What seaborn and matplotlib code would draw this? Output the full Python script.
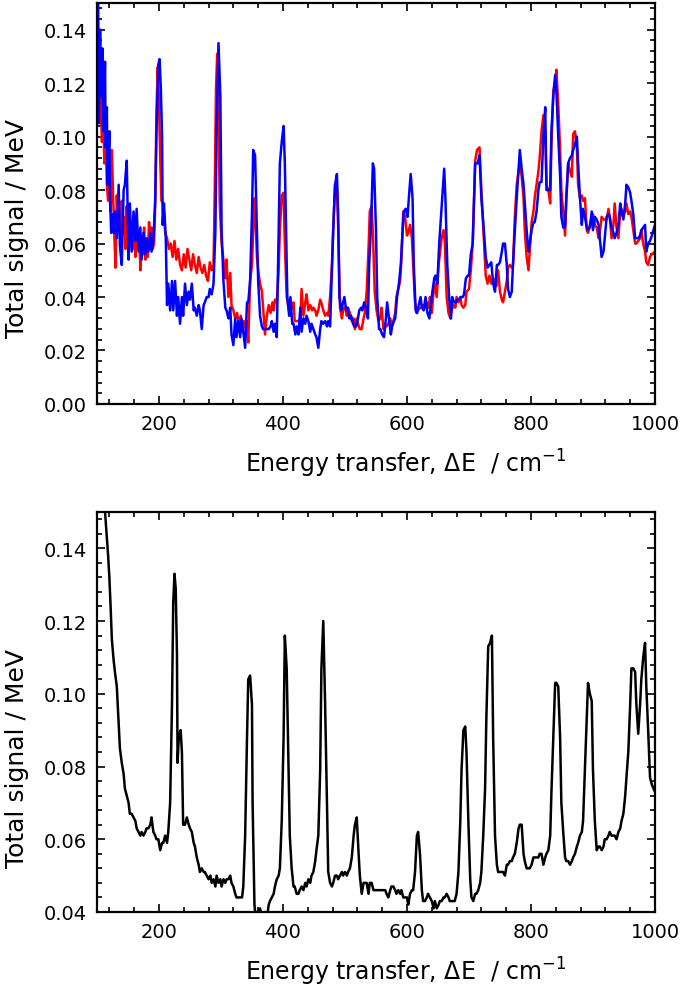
import numpy as np
import pandas as pd
import seaborn as sns
import matplotlib.pyplot as plt
from matplotlib.ticker import MultipleLocator, FormatStrFormatter

# top panel, red trace (energy transfer / cm-1, signal)
red_x = [100, 102, 104, 106, 108, 110, 112, 114, 116, 118, 120, 122, 124, 126, 128, 130, 132, 134, 136, 138,
         140, 142, 144, 146, 148, 150, 152, 154, 156, 158, 160, 162, 164, 166, 168, 170, 172, 174, 176, 178,
         180, 182, 184, 186, 188, 190, 192, 194, 196, 198, 200, 202, 204, 207, 210, 213, 216, 219, 222, 225,
         228, 231, 234, 237, 240, 243, 246, 249, 252, 255, 258, 261, 264, 267, 270, 273, 276, 279, 282, 285,
         288, 290, 292, 294, 296, 298, 301, 304, 307, 309, 312, 315, 317, 320, 323, 326, 329, 332, 334, 337,
         340, 342, 344, 347, 350, 352, 354, 356, 358, 360, 363, 366, 368, 371, 374, 377, 380, 383, 385, 387,
         390, 393, 395, 398, 401, 403, 406, 409, 411, 414, 417, 419, 422, 425, 428, 430, 433, 436, 438, 441,
         444, 447, 449, 452, 454, 457, 460, 463, 465, 468, 471, 473, 476, 479, 481, 484, 487, 489, 492, 495,
         498, 501, 503, 505, 508, 511, 514, 516, 519, 521, 524, 527, 530, 532, 535, 538, 540, 543, 545, 548,
         551, 554, 557, 559, 562, 565, 567, 570, 573, 575, 578, 581, 583, 586, 589, 591, 594, 597, 600, 602,
         605, 608, 610, 613, 616, 618, 621, 624, 626, 629, 632, 635, 637, 640, 643, 645, 648, 651, 654, 656,
         659, 661, 664, 667, 670, 672, 675, 678, 680, 683, 686, 688, 691, 694, 696, 700, 703, 706, 710, 713,
         717, 720, 724, 727, 730, 733, 736, 739, 742, 744, 747, 750, 753, 755, 758, 761, 763, 766, 769, 771,
         774, 777, 780, 782, 785, 788, 790, 793, 796, 798, 801, 804, 806, 809, 812, 814, 817, 820, 823, 825,
         828, 831, 833, 836, 839, 841, 844, 847, 849, 852, 855, 857, 860, 863, 866, 868, 871, 874, 876, 879,
         882, 884, 887, 890, 892, 895, 898, 900, 903, 906, 909, 911, 914, 917, 919, 922, 925, 927, 930, 933,
         935, 938, 941, 944, 946, 949, 952, 954, 957, 960, 962, 965, 968, 970, 973, 976, 978, 981, 984, 986,
         989, 992, 995, 1000]
red_y = [0.120, 0.136, 0.105, 0.115, 0.098, 0.108, 0.090, 0.100, 0.082, 0.076, 0.088, 0.072, 0.095, 0.078, 0.063, 0.051, 0.078, 0.066, 0.072, 0.060,
         0.076, 0.064, 0.070, 0.058, 0.074, 0.062, 0.072, 0.060, 0.068, 0.058, 0.070, 0.055, 0.066, 0.058, 0.064, 0.050, 0.061, 0.056, 0.066, 0.054,
         0.060, 0.055, 0.068, 0.058, 0.066, 0.058, 0.060, 0.075, 0.110, 0.126, 0.112, 0.092, 0.076, 0.075, 0.064, 0.062, 0.058, 0.060, 0.055, 0.061,
         0.054, 0.058, 0.052, 0.050, 0.056, 0.051, 0.058, 0.054, 0.050, 0.056, 0.052, 0.049, 0.055, 0.051, 0.049, 0.052, 0.048, 0.046, 0.053, 0.050,
         0.052, 0.080, 0.118, 0.131, 0.110, 0.075, 0.060, 0.054, 0.047, 0.054, 0.040, 0.049, 0.037, 0.035, 0.032, 0.034, 0.030, 0.033, 0.027, 0.031,
         0.028, 0.031, 0.023, 0.046, 0.052, 0.065, 0.077, 0.068, 0.055, 0.050, 0.045, 0.042, 0.036, 0.026, 0.033, 0.037, 0.034, 0.038, 0.035, 0.039,
         0.038, 0.050, 0.065, 0.078, 0.079, 0.060, 0.040, 0.036, 0.033, 0.036, 0.038, 0.031, 0.031, 0.031, 0.032, 0.043, 0.033, 0.038, 0.041, 0.035,
         0.037, 0.035, 0.036, 0.035, 0.033, 0.035, 0.039, 0.037, 0.035, 0.033, 0.034, 0.033, 0.040, 0.052, 0.065, 0.082, 0.081, 0.066, 0.036, 0.032,
         0.036, 0.036, 0.033, 0.036, 0.034, 0.031, 0.032, 0.028, 0.032, 0.030, 0.028, 0.028, 0.032, 0.034, 0.042, 0.058, 0.072, 0.074, 0.064, 0.042,
         0.035, 0.031, 0.032, 0.036, 0.028, 0.030, 0.029, 0.030, 0.032, 0.030, 0.031, 0.034, 0.040, 0.043, 0.046, 0.054, 0.072, 0.070, 0.063, 0.064,
         0.067, 0.062, 0.052, 0.038, 0.034, 0.035, 0.036, 0.036, 0.037, 0.036, 0.038, 0.036, 0.040, 0.034, 0.042, 0.045, 0.040, 0.052, 0.058, 0.062,
         0.065, 0.061, 0.040, 0.034, 0.032, 0.035, 0.037, 0.036, 0.040, 0.038, 0.040, 0.037, 0.036, 0.037, 0.042, 0.043, 0.050, 0.060, 0.091, 0.095,
         0.096, 0.080, 0.062, 0.048, 0.045, 0.048, 0.045, 0.047, 0.046, 0.044, 0.050, 0.042, 0.039, 0.038, 0.042, 0.046, 0.051, 0.052, 0.051, 0.052,
         0.070, 0.082, 0.087, 0.090, 0.085, 0.077, 0.065, 0.055, 0.050, 0.057, 0.068, 0.072, 0.077, 0.082, 0.087, 0.092, 0.102, 0.108, 0.102, 0.082,
         0.080, 0.075, 0.097, 0.117, 0.121, 0.125, 0.112, 0.095, 0.080, 0.072, 0.063, 0.077, 0.090, 0.087, 0.085, 0.101, 0.102, 0.096, 0.082, 0.077,
         0.078, 0.076, 0.077, 0.065, 0.064, 0.067, 0.070, 0.071, 0.067, 0.066, 0.062, 0.064, 0.070, 0.069, 0.069, 0.069, 0.073, 0.070, 0.062, 0.067,
         0.075, 0.066, 0.062, 0.072, 0.073, 0.071, 0.072, 0.075, 0.071, 0.072, 0.070, 0.065, 0.060, 0.060, 0.061, 0.062, 0.065, 0.060, 0.057, 0.053,
         0.052, 0.055, 0.056, 0.057]

# top panel, blue trace
blue_x = [100, 102, 103, 105, 107, 109, 110, 112, 113, 114, 116, 117, 120, 121, 123, 125, 127, 129, 132, 135,
          137, 140, 143, 145, 148, 151, 153, 156, 159, 162, 164, 167, 170, 172, 175, 178, 180, 183, 186, 188,
          191, 194, 196, 199, 201, 203, 205, 206, 208, 211, 213, 215, 218, 221, 223, 226, 229, 231, 234, 237,
          239, 242, 245, 248, 250, 253, 256, 258, 261, 264, 266, 269, 272, 274, 277, 280, 282, 285, 288, 291,
          293, 296, 299, 301, 304, 307, 309, 312, 315, 317, 320, 323, 325, 328, 331, 333, 336, 339, 342, 344,
          347, 350, 352, 355, 358, 360, 363, 366, 368, 371, 374, 377, 380, 382, 385, 387, 390, 393, 395, 398,
          401, 403, 405, 407, 410, 412, 415, 417, 420, 422, 425, 428, 430, 433, 436, 438, 441, 444, 446, 449,
          452, 454, 457, 460, 462, 465, 468, 471, 473, 476, 479, 481, 484, 487, 489, 491, 494, 496, 499, 502,
          504, 507, 510, 513, 515, 518, 521, 523, 526, 528, 531, 534, 537, 539, 542, 545, 547, 550, 552, 555,
          557, 560, 563, 566, 568, 571, 574, 576, 579, 581, 584, 587, 590, 593, 595, 598, 601, 603, 606, 609,
          611, 614, 616, 619, 622, 624, 627, 630, 633, 636, 638, 641, 644, 646, 649, 652, 654, 657, 660, 662,
          665, 668, 671, 673, 676, 679, 681, 684, 687, 690, 692, 695, 698, 700, 703, 706, 710, 714, 717, 720,
          724, 727, 730, 733, 736, 739, 742, 745, 747, 750, 753, 755, 758, 761, 763, 766, 769, 771, 774, 777,
          780, 782, 785, 788, 790, 793, 796, 798, 801, 804, 806, 809, 812, 814, 817, 820, 823, 825, 828, 831,
          833, 836, 839, 841, 844, 847, 849, 852, 855, 857, 860, 863, 866, 868, 871, 874, 876, 879, 882, 884,
          887, 890, 892, 895, 898, 900, 903, 906, 909, 911, 914, 917, 919, 922, 925, 927, 930, 933, 935, 938,
          941, 944, 946, 949, 952, 954, 957, 960, 962, 965, 968, 970, 973, 976, 978, 981, 984, 986, 989, 992,
          995, 1000]
blue_y = [0.160, 0.150, 0.105, 0.140, 0.115, 0.133, 0.102, 0.118, 0.128, 0.096, 0.111, 0.082, 0.102, 0.077, 0.064, 0.071, 0.064, 0.072, 0.062, 0.082,
          0.059, 0.052, 0.080, 0.082, 0.091, 0.054, 0.075, 0.057, 0.072, 0.061, 0.073, 0.057, 0.066, 0.054, 0.064, 0.056, 0.062, 0.057, 0.064, 0.057,
          0.061, 0.077, 0.102, 0.127, 0.129, 0.118, 0.100, 0.067, 0.075, 0.062, 0.037, 0.045, 0.035, 0.046, 0.035, 0.046, 0.033, 0.040, 0.030, 0.040,
          0.033, 0.045, 0.037, 0.042, 0.039, 0.045, 0.035, 0.036, 0.033, 0.037, 0.035, 0.028, 0.037, 0.038, 0.040, 0.040, 0.043, 0.041, 0.045, 0.065,
          0.102, 0.135, 0.115, 0.065, 0.046, 0.036, 0.035, 0.032, 0.036, 0.026, 0.022, 0.032, 0.025, 0.031, 0.025, 0.032, 0.027, 0.021, 0.038, 0.038,
          0.046, 0.071, 0.095, 0.093, 0.065, 0.046, 0.033, 0.029, 0.028, 0.028, 0.028, 0.028, 0.029, 0.031, 0.027, 0.030, 0.025, 0.065, 0.090, 0.098,
          0.104, 0.090, 0.065, 0.040, 0.033, 0.040, 0.030, 0.030, 0.026, 0.029, 0.026, 0.036, 0.027, 0.032, 0.030, 0.033, 0.031, 0.027, 0.030, 0.028,
          0.026, 0.025, 0.021, 0.028, 0.031, 0.030, 0.031, 0.029, 0.031, 0.029, 0.050, 0.065, 0.082, 0.086, 0.071, 0.040, 0.035, 0.037, 0.040, 0.035,
          0.036, 0.032, 0.033, 0.030, 0.029, 0.029, 0.032, 0.035, 0.036, 0.035, 0.038, 0.036, 0.032, 0.052, 0.067, 0.090, 0.088, 0.065, 0.040, 0.028,
          0.028, 0.026, 0.025, 0.032, 0.038, 0.032, 0.026, 0.029, 0.031, 0.032, 0.040, 0.045, 0.052, 0.065, 0.072, 0.073, 0.070, 0.077, 0.086, 0.077,
          0.052, 0.035, 0.034, 0.037, 0.040, 0.036, 0.035, 0.040, 0.034, 0.032, 0.036, 0.042, 0.047, 0.048, 0.045, 0.060, 0.067, 0.077, 0.088, 0.077,
          0.052, 0.040, 0.032, 0.040, 0.038, 0.038, 0.039, 0.039, 0.040, 0.040, 0.041, 0.047, 0.048, 0.048, 0.056, 0.060, 0.090, 0.090, 0.093, 0.077,
          0.065, 0.055, 0.051, 0.052, 0.053, 0.045, 0.042, 0.052, 0.052, 0.053, 0.057, 0.060, 0.060, 0.052, 0.043, 0.040, 0.042, 0.052, 0.065, 0.077,
          0.088, 0.095, 0.088, 0.082, 0.075, 0.065, 0.057, 0.060, 0.065, 0.068, 0.068, 0.072, 0.080, 0.083, 0.083, 0.100, 0.111, 0.080, 0.080, 0.080,
          0.102, 0.115, 0.123, 0.117, 0.100, 0.085, 0.070, 0.066, 0.066, 0.077, 0.090, 0.092, 0.093, 0.095, 0.097, 0.100, 0.090, 0.077, 0.067, 0.073,
          0.070, 0.066, 0.065, 0.066, 0.072, 0.065, 0.070, 0.069, 0.067, 0.062, 0.055, 0.057, 0.062, 0.070, 0.071, 0.070, 0.066, 0.064, 0.062, 0.064,
          0.067, 0.075, 0.072, 0.069, 0.075, 0.082, 0.081, 0.079, 0.076, 0.071, 0.062, 0.062, 0.062, 0.063, 0.065, 0.066, 0.067, 0.057, 0.060, 0.061,
          0.063, 0.067]

# bottom panel, black trace
black_x = [100, 105, 110, 113, 116, 118, 120, 122, 124, 127, 129, 132, 135, 137, 140, 143, 145, 148, 151, 153,
           156, 159, 162, 164, 167, 170, 172, 175, 178, 180, 183, 186, 188, 191, 194, 196, 199, 202, 205, 207,
           210, 213, 215, 218, 221, 223, 225, 227, 229, 230, 232, 235, 237, 239, 242, 245, 248, 250, 253, 256,
           258, 261, 264, 266, 269, 272, 274, 277, 280, 283, 285, 288, 291, 293, 296, 299, 301, 304, 307, 309,
           312, 315, 317, 320, 323, 325, 328, 331, 334, 336, 339, 342, 344, 347, 350, 351, 354, 356, 360, 363,
           366, 368, 371, 374, 377, 379, 382, 385, 387, 390, 393, 395, 398, 401, 403, 406, 409, 411, 414, 417,
           419, 422, 425, 427, 430, 433, 436, 438, 441, 444, 446, 449, 452, 454, 457, 460, 462, 465, 468, 471,
           473, 476, 479, 481, 484, 487, 489, 492, 495, 497, 500, 503, 505, 508, 511, 514, 516, 519, 522, 524,
           527, 530, 532, 535, 538, 540, 543, 546, 548, 551, 554, 557, 559, 562, 565, 567, 570, 573, 575, 578,
           581, 583, 586, 589, 591, 594, 597, 600, 602, 605, 608, 610, 613, 616, 618, 621, 624, 626, 629, 632,
           634, 637, 640, 643, 645, 648, 651, 653, 656, 659, 661, 664, 667, 669, 672, 675, 677, 680, 683, 686,
           688, 691, 694, 696, 699, 702, 704, 707, 710, 712, 715, 718, 720, 723, 726, 728, 731, 734, 737, 739,
           742, 745, 747, 750, 753, 755, 758, 761, 763, 766, 769, 771, 774, 777, 780, 782, 785, 788, 790, 793,
           796, 798, 801, 804, 806, 809, 812, 814, 817, 820, 823, 825, 828, 831, 833, 836, 839, 841, 844, 847,
           849, 852, 855, 857, 860, 863, 866, 868, 871, 874, 876, 879, 882, 884, 887, 890, 892, 895, 898, 900,
           903, 906, 909, 911, 914, 917, 919, 922, 925, 927, 930, 933, 935, 938, 941, 944, 946, 949, 952, 954,
           957, 960, 962, 965, 968, 970, 973, 976, 978, 981, 984, 986, 989, 992, 995, 1000]
black_y = [0.185, 0.172, 0.160, 0.150, 0.143, 0.138, 0.132, 0.124, 0.115, 0.109, 0.106, 0.102, 0.092, 0.085, 0.081, 0.078, 0.074, 0.072, 0.070, 0.067,
           0.067, 0.066, 0.065, 0.063, 0.062, 0.061, 0.062, 0.061, 0.062, 0.063, 0.063, 0.064, 0.066, 0.062, 0.061, 0.060, 0.060, 0.057, 0.059, 0.059,
           0.061, 0.059, 0.062, 0.070, 0.097, 0.125, 0.133, 0.129, 0.111, 0.081, 0.088, 0.090, 0.084, 0.064, 0.064, 0.066, 0.064, 0.063, 0.062, 0.059,
           0.058, 0.055, 0.053, 0.051, 0.052, 0.051, 0.051, 0.050, 0.049, 0.050, 0.048, 0.049, 0.047, 0.050, 0.048, 0.049, 0.047, 0.049, 0.048, 0.049,
           0.049, 0.050, 0.048, 0.047, 0.045, 0.044, 0.044, 0.044, 0.044, 0.047, 0.061, 0.088, 0.104, 0.105, 0.097, 0.070, 0.042, 0.0385, 0.040, 0.041,
           0.039, 0.038, 0.040, 0.038, 0.042, 0.043, 0.044, 0.045, 0.047, 0.049, 0.050, 0.052, 0.065, 0.088, 0.116, 0.107, 0.079, 0.061, 0.052, 0.047,
           0.047, 0.045, 0.045, 0.046, 0.047, 0.046, 0.048, 0.047, 0.049, 0.048, 0.050, 0.051, 0.054, 0.057, 0.061, 0.079, 0.107, 0.120, 0.097, 0.070,
           0.051, 0.048, 0.047, 0.048, 0.050, 0.050, 0.049, 0.050, 0.051, 0.050, 0.051, 0.050, 0.051, 0.052, 0.055, 0.061, 0.064, 0.066, 0.056, 0.050,
           0.045, 0.048, 0.048, 0.048, 0.045, 0.048, 0.048, 0.046, 0.046, 0.046, 0.046, 0.046, 0.046, 0.046, 0.046, 0.045, 0.044, 0.046, 0.047, 0.047,
           0.046, 0.045, 0.046, 0.045, 0.046, 0.044, 0.044, 0.044, 0.042, 0.045, 0.046, 0.046, 0.051, 0.061, 0.062, 0.056, 0.046, 0.043, 0.043, 0.044,
           0.045, 0.044, 0.043, 0.041, 0.043, 0.041, 0.042, 0.043, 0.043, 0.044, 0.044, 0.045, 0.044, 0.043, 0.043, 0.043, 0.043, 0.045, 0.051, 0.065,
           0.079, 0.090, 0.091, 0.084, 0.065, 0.049, 0.044, 0.043, 0.045, 0.045, 0.046, 0.048, 0.051, 0.061, 0.074, 0.093, 0.113, 0.114, 0.116, 0.088,
           0.061, 0.053, 0.051, 0.051, 0.051, 0.051, 0.050, 0.053, 0.053, 0.054, 0.054, 0.055, 0.056, 0.059, 0.063, 0.064, 0.064, 0.056, 0.054, 0.052,
           0.052, 0.052, 0.053, 0.055, 0.055, 0.055, 0.055, 0.056, 0.056, 0.053, 0.055, 0.056, 0.057, 0.061, 0.073, 0.088, 0.103, 0.103, 0.102, 0.088,
           0.070, 0.062, 0.055, 0.054, 0.054, 0.053, 0.054, 0.055, 0.056, 0.058, 0.059, 0.061, 0.062, 0.065, 0.079, 0.093, 0.103, 0.100, 0.098, 0.079,
           0.065, 0.057, 0.058, 0.058, 0.057, 0.058, 0.060, 0.060, 0.061, 0.062, 0.061, 0.061, 0.061, 0.060, 0.062, 0.063, 0.065, 0.067, 0.072, 0.077,
           0.084, 0.097, 0.107, 0.107, 0.106, 0.097, 0.089, 0.097, 0.104, 0.110, 0.114, 0.102, 0.090, 0.077, 0.075, 0.073]

sns.set_style('ticks')
plt.rcParams['font.family'] = ['DejaVu Sans']
plt.rcParams['text.color'] = 'black'
plt.rcParams['axes.labelcolor'] = 'black'
plt.rcParams['xtick.color'] = 'black'
plt.rcParams['ytick.color'] = 'black'

fig = plt.figure(figsize=(6.8, 9.87), dpi=100)
ax1 = fig.add_axes([0.1426, 0.5897, 0.8206, 0.4063])
ax2 = fig.add_axes([0.1426, 0.075, 0.8206, 0.4053])

sns.lineplot(x=red_x, y=red_y, color='#ff0000', lw=1.8, ax=ax1)
sns.lineplot(x=blue_x, y=blue_y, color='#0000ff', lw=1.8, ax=ax1)
sns.lineplot(x=black_x, y=black_y, color='black', lw=1.8, ax=ax2)


def style(ax, ymin, ymax, label_y):
    ax.set_xlim(100, 1000)
    ax.set_ylim(ymin, ymax)
    ax.xaxis.set_major_locator(MultipleLocator(200))
    ax.xaxis.set_minor_locator(MultipleLocator(40))
    ax.yaxis.set_major_locator(MultipleLocator(0.02))
    ax.yaxis.set_minor_locator(MultipleLocator(0.004))
    ax.yaxis.set_major_formatter(FormatStrFormatter('%.2f'))
    ax.tick_params(which='both', direction='in', top=True, right=True, width=1.2,
                   color='black', labelcolor='black')
    ax.tick_params(which='major', length=6, labelsize=14, pad=7)
    ax.tick_params(which='minor', length=3.5)
    for s in ax.spines.values():
        s.set_linewidth(1.6)
        s.set_color('black')
    ax.set_xlabel('Energy transfer, ΔE  / cm$^{-1}$', fontsize=17, color='black')
    ax.set_ylabel('Total signal / MeV', fontsize=18, color='black')
    ax.xaxis.set_label_coords(0.554, -0.108)
    ax.yaxis.set_label_coords(-0.122, label_y)


style(ax1, 0.0, 0.15, 0.44)
style(ax2, 0.04, 0.15, 0.385)

plt.savefig('out.png', dpi=100)
